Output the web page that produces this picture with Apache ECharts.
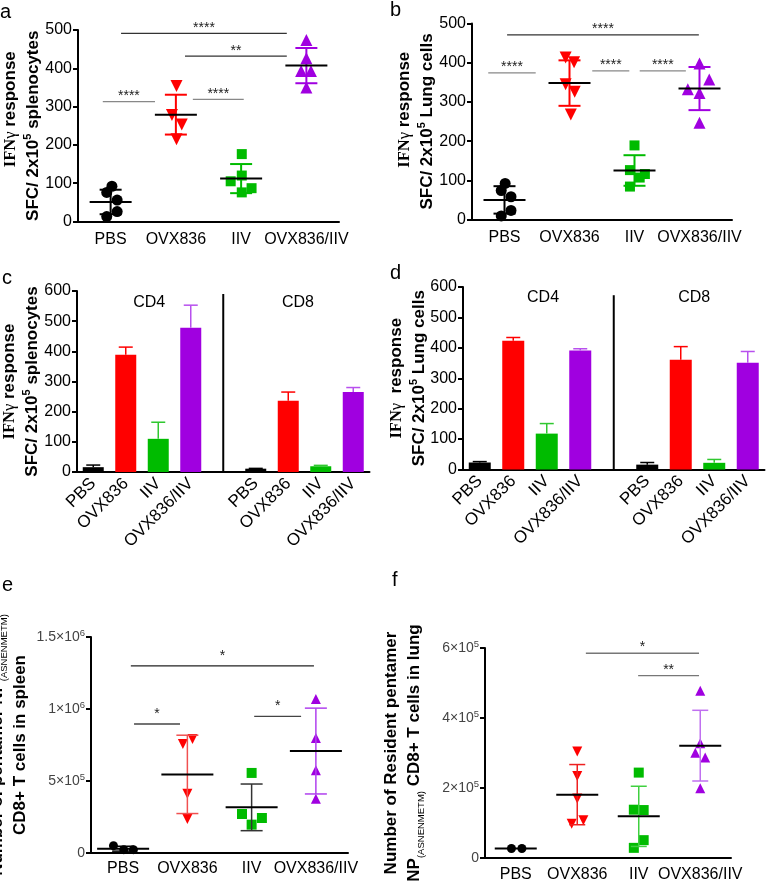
<!DOCTYPE html>
<html><head><meta charset="utf-8">
<script src="https://cdn.jsdelivr.net/npm/echarts@6/dist/echarts.min.js"></script>
<style>html,body{margin:0;padding:0;background:#fff}#c{width:768px;height:887px}</style>
</head><body><div id="c"></div>
<script>
// ---------------- DATA ----------------
const groups = ['PBS', 'OVX836', 'IIV', 'OVX836/IIV'];
const barCats = ['PBS', 'OVX836', 'IIV', 'OVX836/IIV', '', 'PBS', 'OVX836', 'IIV', 'OVX836/IIV'];

// Panel a (spleen IFNγ SFC): [jitter offset in category units, value]
const aPBS = [[0.02, 92], [-0.06, 76], [0.10, 56], [0.10, 26], [-0.06, 13]];
const aOVX = [[0.01, 354], [-0.06, 278], [0.09, 253], [0.01, 215]];
const aIIV = [[0.01, 176], [0.01, 120], [-0.16, 105], [0.16, 87], [0.01, 76]];
const aCOMB = [[0.0, 474], [0.0, 426], [-0.08, 393], [0.07, 393], [0.0, 350]];
const aMean = [51, 279, 112, 407];
const aSD = [32, 52, 38, 46];
const aSig = [[0.16, 2.70, 491], [1.14, 2.70, 432], [-0.12, 0.68, 313], [1.26, 2.04, 319]];
const aSigText = ['****', '**', '****', '****'];

// Panel b (lung IFNγ SFC)
const bPBS = [[0.01, 92], [-0.05, 74], [0.10, 58], [0.10, 23], [-0.05, 9]];
const bOVX = [[-0.06, 413], [0.07, 401], [-0.06, 345], [0.08, 326], [0.02, 268]];
const bIIV = [[0.0, 189], [-0.07, 126], [0.16, 116], [0.08, 107], [-0.07, 84]];
const bCOMB = [[0.0, 398], [0.15, 357], [-0.18, 332], [0.0, 323], [0.0, 247]];
const bMean = [50, 348, 125, 334];
const bSD = [35, 58, 39, 55];
const bSig = [[0.04, 2.99, 471], [-0.25, 0.48, 374], [1.35, 1.92, 379], [2.08, 2.79, 379]];
const bSigText = ['****', '****', '****', '****'];

// Panel c (spleen CD4 | CD8 bars): value and upper error end
const cVal = [16, 389, 110, 478, null, 11, 236, 19, 265];
const cErr = [23, 414, 165, 553, null, 12, 265, 22, 280];
// Panel d (lung CD4 | CD8 bars)
const dVal = [23, 423, 118, 391, null, 16, 361, 22, 351];
const dErr = [26, 434, 151, 397, null, 23, 404, 33, 388];
const subsetNames = ['CD4', 'CD8'];

// Panel e (spleen pentamer+ CD8 T cells)
const ePBS = [[-0.15, 51000], [0.01, 23000], [0.16, 23000]];
const eOVX = [[-0.07, 757000], [0.08, 792000], [0.0, 412000], [0.0, 236000]];
const eIIV = [[0.0, 556000], [-0.15, 271000], [0.16, 243000], [0.0, 197000]];
const eCOMB = [[0.0, 1069000], [0.0, 799000], [0.0, 574000], [0.0, 377000]];
const eMean = [30000, 546000, 317000, 708000];
const eSD = [17000, 272000, 162000, 298000];
const eSig = [[0.12, 2.97, 1300000], [0.17, 0.885, 896000], [2.04, 2.77, 949000]];
const eSigText = ['*', '*', '*'];
const eTicks = [0, 500000, 1000000, 1500000];
const eTickBase = ['0', '5×10', '1×10', '1.5×10'];
const eTickExp = ['', '5', '6', '6'];

// Panel f (lung resident pentamer+ CD8 T cells)
const fPBS = [[-0.07, 27000], [0.10, 27000]];
const fOVX = [[0.0, 304000], [0.0, 234000], [0.0, 170000], [-0.09, 98000], [0.10, 108000]];
const fIIV = [[0.0, 244000], [-0.08, 138000], [0.08, 137000], [0.08, 51000], [-0.08, 29000]];
const fCOMB = [[0.0, 478000], [0.0, 328000], [-0.08, 301000], [0.08, 287000], [0.0, 199000]];
const fMean = [27000, 181000, 119000, 321000];
const fSD = [0, 86000, 86000, 101000];
const fSig = [[1.14, 2.98, 585000], [1.99, 2.98, 521000]];
const fSigText = ['*', '**'];
const fTicks = [0, 200000, 400000, 600000];
const fTickBase = ['0', '2×10', '4×10', '6×10'];
const fTickExp = ['', '5', '5', '5'];

// ---------------- STYLE ----------------
const FONT = "'Liberation Sans', Arial, sans-serif";
const SERIF = "'Liberation Serif', 'DejaVu Serif', serif";
const BLACK = '#000000', RED = '#ff0000', GREEN = '#00bb00', PURPLE = '#a000e0';
const groupColors = [BLACK, RED, GREEN, PURPLE];
const symbols = ['circle', 'triangle', 'rect', 'triangle'];
const rotations = [0, 180, 0, 0];

const titleRich = {
  ifn: {fontFamily: SERIF, fontWeight: 'bold', fontSize: 16.5, color: '#000', lineHeight: 23},
  g: {fontFamily: SERIF, fontSize: 16.5, color: '#000', lineHeight: 23},
  b: {fontFamily: FONT, fontWeight: 'bold', fontSize: 17, color: '#000', lineHeight: 23},
  sup: {fontFamily: FONT, fontWeight: 'bold', fontSize: 11, color: '#000', verticalAlign: 'top', lineHeight: 13},
  sub: {fontFamily: FONT, fontSize: 9.5, color: '#000', verticalAlign: 'bottom', lineHeight: 14}
};

const grids = [
  {left: 78, top: 30, width: 261, height: 191.5},
  {left: 472, top: 23.5, width: 260, height: 196},
  {left: 77, top: 291, width: 292.5, height: 181},
  {left: 463, top: 287, width: 301.5, height: 182.5},
  {left: 91, top: 637, width: 257, height: 216},
  {left: 485, top: 648, width: 246, height: 210}
].map(g => Object.assign({containLabel: false, outerBoundsMode: 'none'}, g));

function catAxis(gi, data, opts) {
  return Object.assign({
    type: 'category', gridIndex: gi, data: data, boundaryGap: true,
    axisLine: {onZero: false, lineStyle: {color: '#000', width: 2}},
    axisTick: {alignWithLabel: true, length: 5, lineStyle: {color: '#000', width: 2}},
    axisLabel: {color: '#000', fontSize: 16, fontFamily: FONT, margin: 10, interval: 0},
    splitLine: {show: false}
  }, opts || {});
}
function hiddenX(gi, n) {
  return {type: 'value', gridIndex: gi, min: -0.5, max: n - 0.5, show: false, splitLine: {show: false}};
}
function valAxis(gi, max, interval, name, nameGap, extra) {
  return Object.assign({
    type: 'value', gridIndex: gi, min: 0, max: max, interval: interval,
    axisLine: {show: true, onZero: false, lineStyle: {color: '#000', width: 2}},
    axisTick: {show: true, length: 5, lineStyle: {color: '#000', width: 2}},
    axisLabel: {color: '#000', fontSize: 16, fontFamily: FONT, margin: 6},
    splitLine: {show: false},
    name: name, nameLocation: 'middle', nameRotate: 90, nameGap: nameGap, nameMoveOverlap: false,
    nameTextStyle: {rich: titleRich, align: 'center'}
  }, extra || {});
}
function expLabels(ticks, base, exp) {
  return {
    color: '#444', fontSize: 14, fontFamily: FONT, margin: 6,
    formatter: function (v) {
      const i = ticks.indexOf(v);
      if (i < 0) return '';
      return exp[i] ? '{n|' + base[i] + '}{s|' + exp[i] + '}' : '{n|' + base[i] + '}';
    },
    rich: {n: {fontSize: 14, color: '#444', fontFamily: FONT, lineHeight: 18},
           s: {fontSize: 9.5, color: '#444', fontFamily: FONT, verticalAlign: 'top', lineHeight: 11}}
  };
}

const rotLabel = {color: '#000', fontSize: 17, fontFamily: FONT, rotate: 45, margin: 9, interval: 0};
const rotTick = {alignWithLabel: true, length: 5, interval: function (i) { return i !== 4; }, lineStyle: {color: '#000', width: 2}};

const xAxes = [
  catAxis(0, groups), hiddenX(0, 4),
  catAxis(1, groups), hiddenX(1, 4),
  catAxis(2, barCats, {axisLabel: rotLabel, axisTick: rotTick}), hiddenX(2, 9),
  catAxis(3, barCats, {axisLabel: rotLabel, axisTick: rotTick}), hiddenX(3, 9),
  catAxis(4, groups, {axisLabel: {color: '#000', fontSize: 16, fontFamily: FONT, margin: 8, interval: 0}}), hiddenX(4, 4),
  catAxis(5, groups, {axisLabel: {color: '#000', fontSize: 16, fontFamily: FONT, margin: 9, interval: 0}}), hiddenX(5, 4)
];

const NB = '\u00a0';
const yAxes = [
  valAxis(0, 500, 100, '{b|' + NB.repeat(7) + '}{ifn|IFN}{g|γ}{b| response}\n{b|SFC/ 2x10}{sup|5}{b| splenocytes}', 33),
  valAxis(1, 500, 100, '{b|' + NB.repeat(5) + '}{ifn|IFN}{g|γ}{b| response}\n{b|SFC/ 2x10}{sup|5}{b| Lung cells}', 33),
  valAxis(2, 600, 100, '{ifn|IFN}{g|γ}{b| response}\n{b|SFC/ 2x10}{sup|5}{b| splenocytes}', 33),
  valAxis(3, 600, 100, '{ifn|IFN}{g|γ}{b|  response}\n{b|SFC/ 2x10}{sup|5}{b| Lung cells}', 32),
  valAxis(4, 1500000, 500000, '{b|Number of pentamer NP}{sub|(ASNENMETM)}\n{b|CD8+ T cells in spleen}', 59,
    {axisLabel: expLabels(eTicks, eTickBase, eTickExp)}),
  valAxis(5, 600000, 200000, '{b|Number of Resident pentamer}\n{b|NP}{sub|(ASNENMETM)}{b| CD8+ T cells in lung}', 59,
    {axisLabel: expLabels(fTicks, fTickBase, fTickExp)})
];

const series = [];

function addScatterPanel(xIdx, yIdx, pts, means, sds, sdColors, sig, sigText, cfg) {
  pts.forEach(function (arr, g) {
    series.push({
      type: 'scatter', xAxisIndex: xIdx, yAxisIndex: yIdx,
      symbol: symbols[g], symbolRotate: rotations[g],
      symbolSize: g === 2 ? cfg.sq : (g === 0 ? cfg.dot : cfg.tri),
      itemStyle: {color: groupColors[g], opacity: 1},
      data: arr.map(function (p) { return [g + p[0], p[1]]; }),
      z: 2, silent: true
    });
  });
  series.push({
    type: 'custom', xAxisIndex: xIdx, yAxisIndex: yIdx, z: 3, silent: true,
    encode: {x: 0, y: 1},
    data: means.map(function (m, g) { return [g, m, sds[g]]; }),
    renderItem: function (params, api) {
      const x = api.value(0), m = api.value(1), s = api.value(2);
      const c = api.coord([x, m]);
      const hi = api.coord([x, m + s]);
      const lo = api.coord([x, m - s]);
      const col = sdColors[params.dataIndex];
      const st = {stroke: col, lineWidth: cfg.sdW};
      const ch = [];
      if (s > 0) {
        ch.push({type: 'line', shape: {x1: c[0], y1: hi[1], x2: c[0], y2: lo[1]}, style: st});
        ch.push({type: 'line', shape: {x1: c[0] - cfg.cap, y1: hi[1], x2: c[0] + cfg.cap, y2: hi[1]}, style: st});
        ch.push({type: 'line', shape: {x1: c[0] - cfg.cap, y1: lo[1], x2: c[0] + cfg.cap, y2: lo[1]}, style: st});
      }
      ch.push({type: 'line', shape: {x1: c[0] - cfg.mean, y1: c[1], x2: c[0] + cfg.mean, y2: c[1]},
        style: {stroke: '#000', lineWidth: cfg.meanW}});
      return {type: 'group', children: ch};
    }
  });
  series.push({
    type: 'custom', xAxisIndex: xIdx, yAxisIndex: yIdx, z: 3, silent: true,
    encode: {x: [0, 1], y: 2},
    data: sig,
    renderItem: function (params, api) {
      const p1 = api.coord([api.value(0), api.value(2)]);
      const p2 = api.coord([api.value(1), api.value(2)]);
      const i = params.dataIndex;
      return {type: 'group', children: [
        {type: 'line', shape: {x1: p1[0], y1: p1[1], x2: p2[0], y2: p2[1]},
          style: {stroke: cfg.sigColors[i], lineWidth: 1.3}},
        {type: 'text', x: (p1[0] + p2[0]) / 2, y: p1[1] + cfg.sigDy,
          style: {text: sigText[i], fill: '#222', font: '14px ' + FONT, align: 'center', verticalAlign: 'middle'}}
      ]};
    }
  });
}

function addBarPanel(xCat, xVal, yIdx, vals, errs, barW, divTop, cdPos, cdY) {
  series.push({
    type: 'bar', xAxisIndex: xCat, yAxisIndex: yIdx, barWidth: barW, silent: true,
    data: vals.map(function (v, i) {
      return v === null ? null : {value: v, itemStyle: {color: groupColors[i < 4 ? i : i - 5]}};
    })
  });
  series.push({
    type: 'custom', xAxisIndex: xCat, yAxisIndex: yIdx, z: 3, silent: true,
    encode: {x: 0, y: [1, 2]},
    data: vals.map(function (v, i) { return v === null ? null : [i, v, errs[i]]; }).filter(function (d) { return d; }),
    renderItem: function (params, api) {
      const i = api.value(0);
      const b = api.coord([i, api.value(1)]);
      const t = api.coord([i, api.value(2)]);
      const gcol = groupColors[i < 4 ? i : i - 5];
      const col = gcol === PURPLE ? '#b850ee' : (gcol === GREEN ? '#30c830' : gcol);
      const st = {stroke: col, lineWidth: 1.5};
      return {type: 'group', children: [
        {type: 'line', shape: {x1: b[0], y1: b[1], x2: t[0], y2: t[1]}, style: st},
        {type: 'line', shape: {x1: t[0] - 7, y1: t[1], x2: t[0] + 7, y2: t[1]}, style: st}
      ]};
    }
  });
  // divider between CD4 and CD8 blocks
  series.push({
    type: 'custom', xAxisIndex: xCat, yAxisIndex: yIdx, z: 3, silent: true,
    encode: {x: 0, y: [1, 2]},
    data: [[4, 0, divTop]],
    renderItem: function (params, api) {
      const a = api.coord([api.value(0), api.value(1)]);
      const b = api.coord([api.value(0), api.value(2)]);
      return {type: 'line', shape: {x1: a[0], y1: a[1], x2: b[0], y2: b[1]}, style: {stroke: '#000', lineWidth: 2}};
    }
  });
  // subset labels
  series.push({
    type: 'custom', xAxisIndex: xVal, yAxisIndex: yIdx, z: 3, silent: true,
    encode: {x: 0, y: 1},
    data: cdPos.map(function (x, k) { return [x, cdY, k]; }),
    renderItem: function (params, api) {
      const p = api.coord([api.value(0), api.value(1)]);
      return {type: 'text', x: p[0], y: p[1],
        style: {text: subsetNames[api.value(2)], fill: '#000', font: '16px ' + FONT, align: 'center', verticalAlign: 'middle'}};
    }
  });
}

addScatterPanel(1, 0, [aPBS, aOVX, aIIV, aCOMB], aMean, aSD, [BLACK, RED, GREEN, PURPLE], aSig, aSigText,
  {dot: 11, tri: 12, sq: 10, mean: 21, cap: 11, sdW: 2, meanW: 2, sigDy: -5, sigColors: ['#333', '#333', '#888', '#888']});
addScatterPanel(3, 1, [bPBS, bOVX, bIIV, bCOMB], bMean, bSD, [BLACK, RED, GREEN, PURPLE], bSig, bSigText,
  {dot: 11, tri: 12, sq: 10, mean: 21, cap: 11, sdW: 2, meanW: 2, sigDy: -6, sigColors: ['#333', '#888', '#888', '#888']});
addBarPanel(4, 5, 2, cVal, cErr, 21, 590, [1.72, 6.3], 563);
addBarPanel(6, 7, 3, dVal, dErr, 22, 573, [1.89, 6.4], 566);
addScatterPanel(9, 4, [ePBS, eOVX, eIIV, eCOMB], eMean, eSD, [BLACK, '#f05050', '#333', '#b040ee'], eSig, eSigText,
  {dot: 9, tri: 10, sq: 10, mean: 26, cap: 11, sdW: 1.5, meanW: 2, sigDy: -10, sigColors: ['#222', '#444', '#444']});
addScatterPanel(11, 5, [fPBS, fOVX, fIIV, fCOMB], fMean, fSD, [BLACK, '#ee2020', '#40d040', '#c070f0'], fSig, fSigText,
  {dot: 9, tri: 10, sq: 10, mean: 21, cap: 8, sdW: 1.5, meanW: 2, sigDy: -6, sigColors: ['#777', '#777']});

const letters = [['a', 0, 2], ['b', 390, 0], ['c', 2, 268], ['d', 390, 263], ['e', 2, 575], ['f', 392, 570]];

const chart = echarts.init(document.getElementById('c'), null, {renderer: 'canvas'});
chart.setOption({
  animation: false,
  backgroundColor: '#fff',
  grid: grids,
  xAxis: xAxes,
  yAxis: yAxes,
  series: series,
  graphic: letters.map(function (l) {
    return {type: 'text', left: l[1], top: l[2], style: {text: l[0], fill: '#000', font: '20px ' + FONT}};
  })
});
</script>
</body></html>
